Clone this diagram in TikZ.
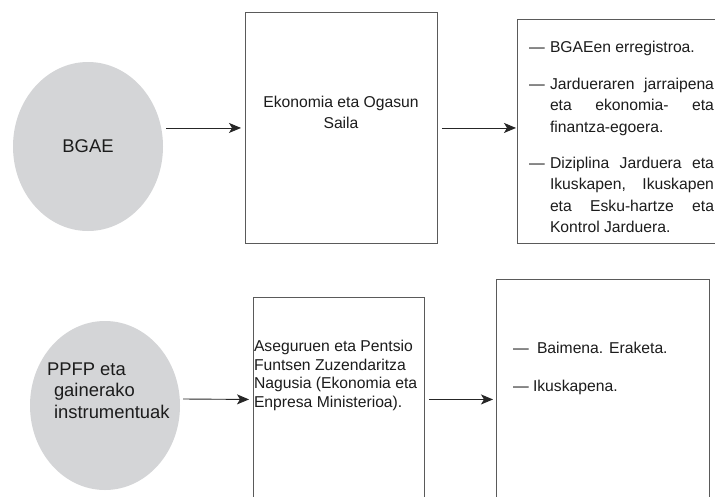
\documentclass[tikz,border=0pt]{standalone}
\usepackage{fontspec}
\setmainfont{Liberation Sans}
\usetikzlibrary{arrows.meta,shapes.geometric,calc}
\definecolor{blobgray}{RGB}{212,213,215}
\definecolor{linegray}{RGB}{90,90,90}
\definecolor{inkc}{RGB}{28,28,28}
\tikzset{
  boxnode/.style={draw=linegray,line width=0.9pt,rectangle,inner sep=0pt,anchor=north west},
  blob/.style={ellipse,fill=blobgray,draw=none,inner sep=0pt,minimum width=150pt,minimum height=169pt,text=inkc,font=\fontsize{18.4}{21.5}\selectfont},
  arr/.style={draw=black!85,line width=0.9pt,-{Stealth[length=12pt,width=10pt,inset=3pt]}},
  lt/.style={anchor=base west,inner sep=0pt,outer sep=0pt,text=inkc,font=\fontsize{15.7}{18}\selectfont},
  ct/.style={anchor=base,inner sep=0pt,outer sep=0pt,text=inkc,font=\fontsize{15.7}{18}\selectfont},
  bt/.style={anchor=base west,inner sep=0pt,outer sep=0pt,text=inkc,font=\fontsize{18.4}{21.5}\selectfont},
}
\newcommand{\jline}[1]{\makebox[164pt][s]{#1}}
\begin{document}
\begin{tikzpicture}[x=1pt,y=-1pt]
\useasboundingbox (0,0) rectangle (715,496);
\fill[white] (0,0) rectangle (715,496);
\clip (0,0) rectangle (715,496);

% top row
\node[blob] (e1) at (88,146.5) {BGAE};
\node[boxnode,minimum width=192pt,minimum height=231pt] (b1) at (245,12) {};
\node[boxnode,minimum width=230pt,minimum height=224pt] (b3) at (517,19) {};

\node[ct] (k1) at (341,107) {Ekonomia eta Ogasun};
\node[ct] (k2) at (341,128) {Saila};

\draw[arr] ($(b1.west -| e1.east)+(3,0)$) -- ([xshift=-4pt]b1.west);
\draw[arr] ([xshift=4pt]b1.east) -- ($(b1.east -| b3.west)+(-1,0)$);

\node[lt] (d1) at (529,52) {—};
\node[lt] (l1) at (550,52) {BGAEen erregistroa.};
\node[lt] (d2) at (529,89) {—};
\node[lt] (l2) at (550,89) {\jline{Jardueraren jarraipena}};
\node[lt] (l3) at (550,110.5) {\jline{eta ekonomia- eta}};
\node[lt] (l4) at (550,132) {finantza-egoera.};
\node[lt] (d3) at (529,168) {—};
\node[lt] (l5) at (550,168) {\jline{Diziplina Jarduera eta}};
\node[lt] (l6) at (550,189.5) {\jline{Ikuskapen, Ikuskapen}};
\node[lt] (l7) at (550,211) {\jline{eta Esku-hartze eta}};
\node[lt] (l8) at (550,232.5) {Kontrol Jarduera.};

% bottom row
\node[blob] (e2) at (105,405.5) {};
\node[bt] (p1) at (47,375) {PPFP eta};
\node[bt] (p2) at (54,396.5) {gainerako};
\node[bt] (p3) at (54,418) {instrumentuak};

\node[boxnode,minimum width=171pt,minimum height=204pt] (b4) at (253,297) {};
\node[boxnode,minimum width=213pt,minimum height=240pt] (b5) at (496,279) {};

\node[lt] (s1) at (254,351.5) {Aseguruen eta Pentsio};
\node[lt] (s2) at (254,370) {Funtsen Zuzendaritza};
\node[lt] (s3) at (254,388.5) {Nagusia (Ekonomia eta};
\node[lt] (s4) at (254,407) {Enpresa Ministerioa).};

\draw[arr] ($(e2.east)+(3,-6.5)$) -- ([xshift=-4pt]b4.west);
\draw[arr] ([xshift=4pt]b4.east) -- ([xshift=-3pt]b5.west);

\node[lt] (m1) at (513,353.5) {—};
\node[lt] (n1) at (537,353.5) {Baimena. Eraketa.};
\node[lt] (m2) at (513,391.5) {—};
\node[lt] (n2) at (533,391.5) {Ikuskapena.};
\end{tikzpicture}
\end{document}
